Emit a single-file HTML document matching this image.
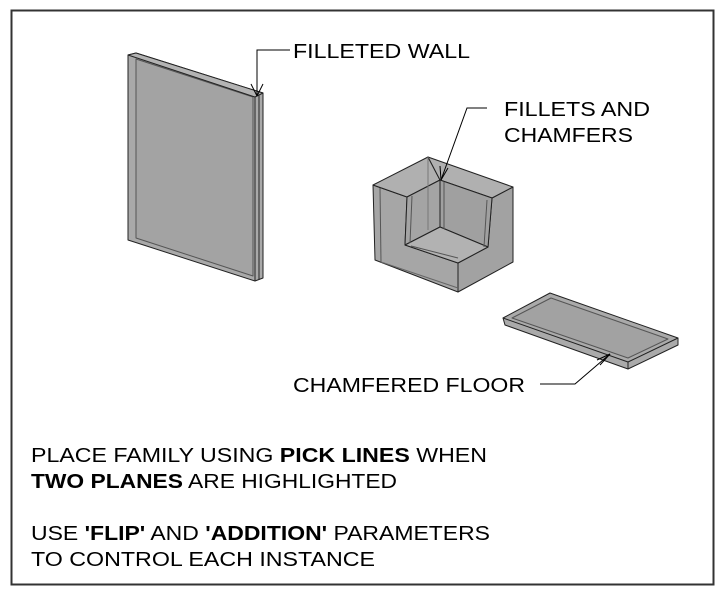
<!DOCTYPE html>
<html><head><style>
body{margin:0;background:#fff;width:720px;height:594px;overflow:hidden}
svg{display:block}
text{font-family:"Liberation Sans",Arial,sans-serif;font-size:20px;fill:#000}
.b{font-weight:bold}
</style></head><body>
<svg width="720" height="594" viewBox="0 0 720 594">
<rect x="11.5" y="10.5" width="702" height="574" fill="none" stroke="#333" stroke-width="2"/>
<g stroke="#222" stroke-width="1" fill="#a9a9a9" stroke-linejoin="round">
<!-- wall -->
<polygon points="128,55 136,53 263,93 263,278 255,281 128,240"/>
<polygon points="136,59 253,97 253,276 136,238" fill="#a3a3a3" stroke="#555"/>
<polygon points="128,55 136,53 263,93 255,97" fill="#b3b3b3"/>
<line x1="255" y1="97" x2="255" y2="281"/>
<line x1="259" y1="95" x2="259" y2="280"/>
<!-- box -->
<polygon points="373,185 407,197 405,245 458,263 458,292 375,260" fill="#a6a6a6"/>
<polygon points="458,263 488,247 492,198 513,187 513,262 458,292" fill="#a2a2a2"/>
<polygon points="373,185 428,157 440,180 407,197" fill="#b0b0b0"/>
<polygon points="428,157 513,187 492,198 440,180" fill="#b0b0b0"/>
<polygon points="407,197 440,180 440,227 405,245" fill="#a4a4a4"/>
<polygon points="440,180 492,198 488,247 440,227" fill="#a0a0a0"/>
<polygon points="405,245 440,227 488,247 458,263" fill="#b2b2b2"/>
<line x1="428" y1="157" x2="428" y2="230" stroke="#777"/>
<line x1="412" y1="196" x2="410" y2="243" stroke="#555"/>
<line x1="444" y1="182" x2="444" y2="229" stroke="#555"/>
<line x1="487" y1="200" x2="484" y2="247" stroke="#555"/>
<line x1="411" y1="246" x2="458" y2="258" stroke="#555"/>
<line x1="380" y1="188" x2="381" y2="262" stroke="#555"/>
<line x1="381" y1="262" x2="458" y2="288" stroke="#666"/>
<!-- floor -->
<polygon points="503,318 550,293 678,338 678,345 628,369 505,325" fill="#aaa"/>
<polygon points="512,318 551,298 668,339 628,358" fill="#a2a2a2" stroke="#555"/>
<line x1="503" y1="318" x2="628" y2="362"/>
<line x1="628" y1="362" x2="678" y2="338"/>
<line x1="628" y1="362" x2="628" y2="369"/>
</g>
<!-- leaders -->
<g stroke="#000" fill="none" stroke-width="1">
<polyline points="290,50 257,50 257,96"/>
<line x1="251" y1="84" x2="257" y2="96"/><line x1="263" y1="84" x2="257" y2="96"/>
<polyline points="487,108 467,108 441,180"/>
<line x1="440" y1="166" x2="441" y2="180"/><line x1="448" y1="168" x2="441" y2="180"/>
<polyline points="540,384 575,384 610,354"/>
<line x1="597" y1="360" x2="610" y2="354"/><line x1="600" y1="365" x2="610" y2="354"/>
</g>
<text x="293" y="58" textLength="177" lengthAdjust="spacingAndGlyphs">FILLETED WALL</text>
<text x="504" y="116" textLength="146" lengthAdjust="spacingAndGlyphs">FILLETS AND</text>
<text x="504" y="142" textLength="129" lengthAdjust="spacingAndGlyphs">CHAMFERS</text>
<text x="293" y="392" textLength="232" lengthAdjust="spacingAndGlyphs">CHAMFERED FLOOR</text>
<text x="31" y="462" textLength="456" lengthAdjust="spacingAndGlyphs">PLACE FAMILY USING <tspan class="b">PICK LINES</tspan> WHEN</text>
<text x="31" y="488" textLength="366" lengthAdjust="spacingAndGlyphs"><tspan class="b">TWO PLANES</tspan> ARE HIGHLIGHTED</text>
<text x="31" y="540" textLength="459" lengthAdjust="spacingAndGlyphs">USE <tspan class="b">'FLIP'</tspan> AND <tspan class="b">'ADDITION'</tspan> PARAMETERS</text>
<text x="31" y="566" textLength="344" lengthAdjust="spacingAndGlyphs">TO CONTROL EACH INSTANCE</text>
</svg>
</body></html>
